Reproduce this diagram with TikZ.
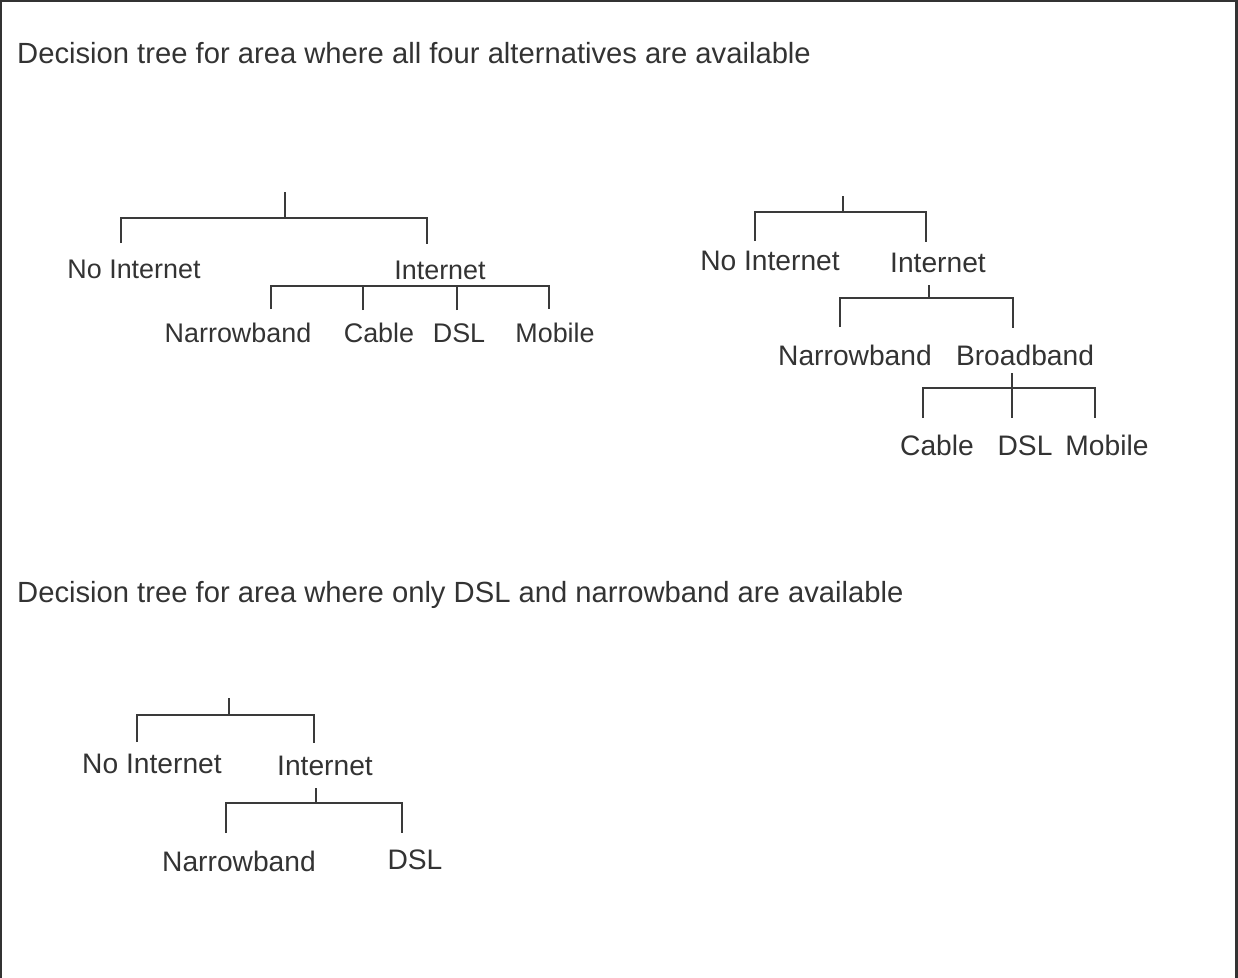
\documentclass[tikz,border=0pt]{standalone}
\usepackage{fontspec}
\setmainfont{Liberation Sans}
\definecolor{ink}{HTML}{333333}
\definecolor{wire}{HTML}{3A3A3A}
\begin{document}
\begin{tikzpicture}[x=1pt,y=-1pt,
  heading/.style={anchor=base west,inner sep=0pt,text=ink,font=\fontsize{29.2}{34}\selectfont},
  lbl/.style={anchor=base,inner sep=0pt,text=ink,font=\fontsize{26.9}{32}\selectfont},
  lblb/.style={anchor=base,inner sep=0pt,text=ink,font=\fontsize{28.2}{33}\selectfont},
  wirestyle/.style={draw=wire,line width=1.8pt},
  frame/.style={draw=ink,line width=2.2pt}]
\useasboundingbox (0,0) rectangle (1238,977);
\draw[frame] (1,978) -- (1,1) -- (1236.5,1) -- (1236.5,978);

\node[heading] (h1) at (17,63) {Decision tree for area where all four alternatives are available};
\node[heading] (h2) at (17,602) {Decision tree for area where only DSL and narrowband are available};

% ---------- Tree 1 ----------
\node[lbl] (t1no)  at (134,278) {No Internet};
\node[lbl] (t1in)  at (440,279) {Internet};
\node[lbl] (t1nb)  at (238,342) {Narrowband};
\node[lbl] (t1ca)  at (379,342) {Cable};
\node[lbl] (t1ds)  at (459,342) {DSL};
\node[lbl] (t1mo)  at (555,342) {Mobile};
\coordinate (t1r) at (285,192);
\coordinate (t1j) at (285,218);
\coordinate (t1a) at (121,243);
\coordinate (t1b) at (427,244);
\draw[wirestyle] (t1r) -- (t1j);
\draw[wirestyle] (t1a) |- (t1j) -| (t1b);
\coordinate (t1k1) at (271,309);
\coordinate (t1k2) at (363,310);
\coordinate (t1k3) at (457,310);
\coordinate (t1k4) at (549,309);
\coordinate (t1m) at (410,286);
\draw[wirestyle] (t1k1) |- (t1m) -| (t1k4);
\draw[wirestyle] (t1k2) -- (t1k2 |- t1m);
\draw[wirestyle] (t1k3) -- (t1k3 |- t1m);

% ---------- Tree 2 ----------
\node[lblb] (t2no)  at (770,270) {No Internet};
\node[lblb] (t2in)  at (938,272) {Internet};
\node[lblb] (t2nb)  at (855,365) {Narrowband};
\node[lblb] (t2bb)  at (1025,365) {Broadband};
\node[lblb] (t2ca)  at (937,455) {Cable};
\node[lblb] (t2ds)  at (1025,455) {DSL};
\node[lblb] (t2mo)  at (1107,455) {Mobile};
\coordinate (t2r) at (843,196);
\coordinate (t2j) at (843,212);
\coordinate (t2a) at (755,241);
\coordinate (t2b) at (926,242);
\draw[wirestyle] (t2r) -- (t2j);
\draw[wirestyle] (t2a) |- (t2j) -| (t2b);
\coordinate (t2s) at (929,285);
\coordinate (t2j2) at (929,298);
\coordinate (t2c) at (840,327);
\coordinate (t2d) at (1013,328);
\draw[wirestyle] (t2s) -- (t2j2);
\draw[wirestyle] (t2c) |- (t2j2) -| (t2d);
\coordinate (t2s3) at (1012,373);
\coordinate (t2j3) at (1012,388);
\coordinate (t2e) at (923,418);
\coordinate (t2f) at (1012,418);
\coordinate (t2g) at (1095,418);
\draw[wirestyle] (t2s3) -- (t2f);
\draw[wirestyle] (t2e) |- (t2j3) -| (t2g);

% ---------- Tree 3 ----------
\node[lblb] (t3no)  at (152,773) {No Internet};
\node[lblb] (t3in)  at (325,775) {Internet};
\node[lblb] (t3nb)  at (239,871) {Narrowband};
\node[lblb] (t3ds)  at (415,869) {DSL};
\coordinate (t3r) at (229,698);
\coordinate (t3j) at (229,715);
\coordinate (t3a) at (137,742);
\coordinate (t3b) at (314,743);
\draw[wirestyle] (t3r) -- (t3j);
\draw[wirestyle] (t3a) |- (t3j) -| (t3b);
\coordinate (t3s) at (316,788);
\coordinate (t3j2) at (316,803);
\coordinate (t3c) at (226,833);
\coordinate (t3d) at (402,833);
\draw[wirestyle] (t3s) -- (t3j2);
\draw[wirestyle] (t3c) |- (t3j2) -| (t3d);
\end{tikzpicture}
\end{document}
